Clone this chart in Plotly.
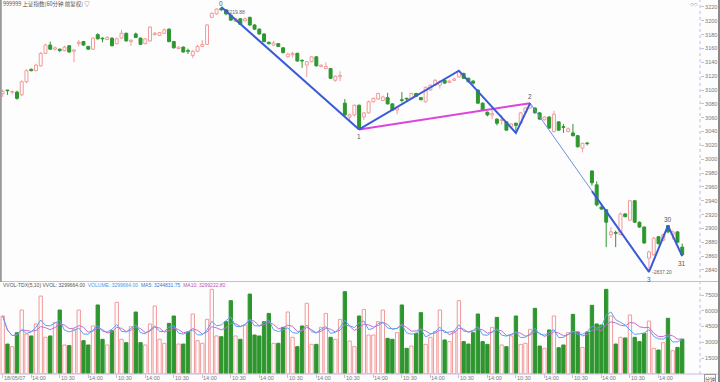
import plotly.graph_objects as go
import pandas as pd

# ---------------- data ----------------
opens = [3095, 3100, 3097, 3097, 3093, 3112, 3130, 3128, 3135, 3153,
         3165, 3159, 3159, 3157, 3164, 3156, 3167, 3170, 3163, 3159,
         3180, 3175, 3173, 3175, 3167, 3175, 3182, 3170, 3181, 3175,
         3167, 3171, 3180, 3179, 3182, 3188, 3170, 3160, 3162, 3157,
         3150, 3156, 3163, 3166, 3205, 3210, 3218, 3216, 3208, 3199,
         3203, 3200, 3205, 3194, 3188, 3181, 3169, 3165, 3167, 3161,
         3148, 3151, 3153, 3143, 3136, 3141, 3148, 3134, 3131, 3131,
         3114, 3119, 3081, 3061, 3064, 3078, 3061, 3067, 3083, 3087,
         3085, 3089, 3080, 3071, 3086, 3088, 3088, 3095, 3089, 3083,
         3100, 3107, 3107, 3114, 3111, 3114, 3119, 3124, 3117, 3113,
         3100, 3081, 3068, 3064, 3058, 3056, 3054, 3047, 3052, 3052,
         3068, 3074, 3074, 3067, 3057, 3061, 3040, 3054, 3047, 3040,
         3038, 3034, 3016, 3023.5, 2983, 2963, 2931, 2927, 2891, 2894,
         2891, 2921, 2912, 2940, 2909, 2902, 2857, 2862, 2888, 2883,
         2904, 2891, 2895, 2873]
highs = [3101, 3100, 3099, 3099, 3114, 3130, 3131, 3138, 3155, 3167,
         3170, 3163, 3160, 3164, 3165, 3159, 3172, 3171, 3164, 3176,
         3182, 3176, 3178, 3176, 3176, 3187, 3183, 3173, 3183, 3176,
         3175, 3192, 3184, 3184, 3189, 3189, 3171, 3163, 3163, 3160,
         3158, 3165, 3172, 3195, 3212, 3218, 3219.88, 3217, 3209, 3204,
         3204, 3205, 3206, 3195, 3189, 3182, 3170, 3171, 3168, 3162,
         3154, 3155, 3154, 3144, 3142, 3149, 3149, 3137, 3140, 3132,
         3121, 3127, 3087, 3066, 3079, 3079, 3068, 3085, 3089, 3096,
         3092, 3096, 3081, 3076, 3097, 3089, 3096, 3096, 3090, 3105,
         3108, 3116, 3114, 3116, 3115, 3118, 3128, 3125, 3118, 3114,
         3101, 3082, 3069, 3075, 3059, 3064, 3055, 3052, 3053, 3068,
         3075, 3081, 3075, 3068, 3062, 3062, 3070, 3055, 3051, 3046,
         3051, 3035, 3024, 3025, 2984, 2968, 2932, 2928, 2902, 2897,
         2923, 2922, 2941, 2941, 2910, 2903, 2868, 2888, 2889, 2893,
         2905, 2897, 2896, 2878]
lows = [3090, 3093, 3094, 3086, 3091, 3110, 3127, 3127, 3134, 3152,
        3158, 3157, 3155, 3156, 3154, 3140, 3163, 3164, 3158, 3158,
        3173, 3169, 3172, 3163, 3166, 3174, 3170, 3164, 3175, 3165,
        3166, 3170, 3179, 3178, 3181, 3169, 3160, 3159, 3154, 3152,
        3146, 3155, 3162, 3165, 3204, 3209, 3214, 3208, 3200, 3198,
        3194, 3199, 3193, 3187, 3180, 3169, 3166, 3164, 3162, 3153,
        3147, 3147, 3141, 3132, 3119, 3140, 3134, 3133, 3130, 3116,
        3112, 3113, 3062, 3056, 3062, 3043, 3057, 3066, 3082, 3086,
        3084, 3079, 3070, 3065, 3082, 3084, 3087, 3090, 3085, 3082,
        3099, 3106, 3102, 3109, 3110, 3113, 3118, 3116, 3111, 3108,
        3080, 3070, 3062, 3058, 3049, 3050, 3041, 3044, 3038, 3051,
        3067, 3073, 3066, 3057, 3056, 3044, 3039, 3041, 3038, 3039,
        3033, 3017, 3010, 3020, 2962, 2932, 2927, 2873, 2886, 2873,
        2890, 2916, 2911, 2908, 2901, 2878, 2837.2, 2861, 2877, 2882,
        2893, 2884, 2879, 2860]
closes = [3098, 3099, 3098, 3088, 3112, 3128, 3128, 3136, 3153, 3165,
          3159, 3161, 3157, 3162, 3155, 3158, 3169, 3165, 3159, 3175,
          3174, 3174, 3176, 3164, 3174, 3182, 3171, 3172, 3176, 3166,
          3174, 3191, 3182, 3183, 3187, 3170, 3161, 3162, 3155, 3156,
          3156, 3163, 3166, 3194, 3211, 3217, 3216, 3210, 3201, 3203,
          3195, 3203, 3194, 3188, 3181, 3170, 3167, 3168, 3163, 3154,
          3152, 3153, 3142, 3142, 3141, 3148, 3135, 3136, 3134, 3117,
          3120, 3121, 3064, 3064, 3078, 3045, 3067, 3083, 3088, 3095,
          3090, 3080, 3071, 3074, 3085, 3087, 3095, 3091, 3086, 3104,
          3107, 3114, 3112, 3110, 3113, 3116, 3126, 3117, 3112, 3110,
          3081, 3071, 3064, 3066, 3052, 3057, 3042, 3051, 3049, 3067,
          3074, 3078, 3067, 3058, 3061, 3045, 3065, 3042, 3046, 3044,
          3034, 3018, 3023, 3022.5, 2966, 2934, 2928, 2909, 2895, 2893,
          2921, 2917, 2940, 2909, 2902, 2879, 2866, 2886, 2878, 2891,
          2895, 2895, 2880, 2862]
volumes = [55000, 28300, 25800, 39100, 60700, 37900, 36000, 47400, 74000, 34700,
           36000, 48700, 60700, 27400, 26800, 42300, 60700, 31500, 27400, 45500,
           65500, 32800, 27400, 41000, 68000, 32800, 29600, 44800, 58800, 29600,
           27400, 47400, 64500, 32800, 29000, 48000, 55000, 28300, 28300, 39800,
           56900, 31500, 29000, 51800, 80400, 36000, 35300, 49600, 69600, 36000,
           32800, 46400, 75900, 36900, 36000, 49600, 57500, 29000, 29000, 44200,
           58800, 34700, 25800, 45500, 67100, 28000, 28000, 44200, 57500, 34700,
           32800, 51800, 78200, 31200, 25800, 55000, 61300, 36900, 36900, 49600,
           60700, 33700, 32800, 39100, 65500, 24200, 26400, 38400, 58200, 28000,
           34700, 40100, 60700, 32200, 30600, 40100, 69600, 30600, 28300, 39100,
           56900, 30600, 28000, 44200, 53700, 27400, 25800, 36000, 55000, 28000,
           29000, 42300, 62300, 26400, 24200, 41700, 55000, 24800, 27400, 39100,
           56600, 39800, 25100, 39800, 65200, 47400, 46400, 80400, 55000, 28300,
           34700, 34100, 56000, 34700, 30600, 38400, 50200, 24200, 22600, 29600,
           52800, 22000, 25100, 32997]

# wave points (bar index, price)
wave_main_idx = [46, 75]
wave_main_px = [3219.88, 3043]
wave_up_idx = [75, 96, 108, 111]
wave_up_px = [3043, 3128, 3038, 3081]
wave_link_idx = [75, 111]
wave_link_px = [3043, 3081]
wave_thin_idx = [111, 136]
wave_thin_px = [3081, 2837.2]
wave_tail_idx = [124, 136, 140, 143]
wave_tail_px = [2954, 2837.2, 2904, 2860]

wave_labels = ["0", "1", "2", "3", "30", "31"]
wave_label_idx = [46, 75, 111, 136, 140, 143]
wave_label_px = [3219.88, 3043, 3081, 2837.2, 2904, 2860]
wave_label_above = [True, False, True, False, True, False]

price_ticks = [2840, 2860, 2880, 2900, 2920, 2940, 2960, 2980, 3000, 3020,
               3040, 3060, 3080, 3100, 3120, 3140, 3160, 3180, 3200, 3220]
vol_ticks = [15000, 30000, 45000, 60000, 75000]

time_label_idx = [0, 6, 12, 18, 24, 30, 36, 42, 48, 54, 60, 66, 72, 78, 84,
                  90, 96, 102, 108, 114, 120, 126, 132, 138]
time_labels = ["18/05/07", "14:00", "10:30", "14:00", "10:30", "14:00", "10:30",
               "14:00", "10:30", "14:00", "10:30", "14:00", "10:30", "14:00",
               "10:30", "14:00", "10:30", "14:00", "10:30", "14:00", "10:30",
               "14:00", "10:30", "14:00"]

vol_header_parts = ["VVOL-TDX(5,10) VVOL: 3299664.00", "VOLUME: 3299664.00",
                    "MA5: 3244831.75", "MA10: 3299222.80"]
vol_header_colors = ["#555555", "#4f9be8", "#3f74d8", "#c050c0"]

# ---------------- style ----------------
W, H = 720, 382
BG = "#fdfdfd"
PINK = "#f29a9a"
GREEN = "#2e962e"
AXC = "#cbb8de"
TXT = "#7a7a7a"
FONT = "Liberation Sans, DejaVu Sans, sans-serif"
CJK = "Noto Sans CJK SC, sans-serif"


def px(v):
    return v / W


def py(v):
    return 1 - v / H


n = len(opens)
idx = list(range(n))
is_up = [c >= o for o, c in zip(opens, closes)]

fig = go.Figure()

# wicks
for flag, col in ((True, PINK), (False, GREEN)):
    wx, wy = [], []
    for i in idx:
        if is_up[i] != flag:
            continue
        top = max(opens[i], closes[i])
        bot = min(opens[i], closes[i])
        wx += [i, i, None, i, i, None]
        wy += [top, highs[i], None, lows[i], bot, None]
    fig.add_trace(go.Scatter(x=wx, y=wy, mode="lines", line=dict(color=col, width=1),
                             hoverinfo="skip", xaxis="x", yaxis="y"))

# bodies
for flag, fill, col in ((True, BG, PINK), (False, GREEN, GREEN)):
    bx = [i for i in idx if is_up[i] == flag]
    fig.add_trace(go.Bar(
        x=bx,
        y=[max(abs(closes[i] - opens[i]), 0.4) for i in bx],
        base=[min(opens[i], closes[i]) for i in bx],
        width=0.62, marker=dict(color=fill, line=dict(color=col, width=1)),
        xaxis="x", yaxis="y", hoverinfo="skip"))

# wave lines
fig.add_trace(go.Scatter(x=wave_link_idx, y=wave_link_px, mode="lines",
                         line=dict(color="#dd44dd", width=2), xaxis="x", yaxis="y"))
fig.add_trace(go.Scatter(x=wave_thin_idx, y=wave_thin_px, mode="lines",
                         line=dict(color="#6f8fe8", width=1), xaxis="x", yaxis="y"))
for wx_, wy_ in ((wave_main_idx, wave_main_px), (wave_up_idx, wave_up_px),
                 (wave_tail_idx, wave_tail_px)):
    fig.add_trace(go.Scatter(x=wx_, y=wy_, mode="lines",
                             line=dict(color="#3a5bd8", width=2), xaxis="x", yaxis="y"))

# volume bars
for flag, fill, col in ((True, BG, PINK), (False, GREEN, GREEN)):
    bx = [i for i in idx if is_up[i] == flag]
    fig.add_trace(go.Bar(x=bx, y=[volumes[i] for i in bx], width=0.7,
                         marker=dict(color=fill, line=dict(color=col, width=1)),
                         xaxis="x2", yaxis="y2", hoverinfo="skip"))

vol_s = pd.Series(volumes, dtype=float)
ma5 = vol_s.rolling(5, min_periods=1).mean()
ma10 = vol_s.rolling(10, min_periods=1).mean()
fig.add_trace(go.Scatter(x=idx, y=ma10, mode="lines", line=dict(color="#c86ad0", width=1),
                         xaxis="x2", yaxis="y2"))
fig.add_trace(go.Scatter(x=idx, y=ma5, mode="lines", line=dict(color="#5aa2f0", width=1),
                         xaxis="x2", yaxis="y2"))

# ---------------- layout ----------------
xr = [-0.57, 146.74]
price_dom = [py(281), 1]
vol_dom = [py(373.75), py(282)]
vol_top = (373.75 - 282) / 1.05 * 1000

annotations = []
for lab, i, p, above in zip(wave_labels, wave_label_idx, wave_label_px, wave_label_above):
    annotations.append(dict(x=i, y=p, xref="x", yref="y", text=lab, showarrow=False,
                            yanchor="bottom" if above else "top",
                            yshift=(-2 if i == wave_label_idx[0] else 1) if above else -2,
                            font=dict(size=6.5, color="#555", family=FONT)))
annotations.append(dict(x=46, y=3219.88, xref="x", yref="y", text="-3219.88",
                        showarrow=False, xanchor="left", yanchor="top", xshift=2, yshift=0,
                        font=dict(size=5, color="#666", family=FONT)))
annotations.append(dict(x=136, y=2837.2, xref="x", yref="y", text="-2837.20",
                        showarrow=False, xanchor="left", yanchor="middle", xshift=1,
                        font=dict(size=5, color="#666", family=FONT)))
annotations.append(dict(x=px(1), y=py(4), xref="paper", yref="paper",
                        text="999999 上证指数(60分钟 前复权) ▽", showarrow=False,
                        xanchor="left", yanchor="middle",
                        font=dict(size=5.5, color="#555", family=CJK)))
annotations.append(dict(x=px(700), y=py(4), xref="paper", yref="paper", text="◇◇",
                        showarrow=False, xanchor="right", yanchor="middle",
                        font=dict(size=5, color="#999", family=FONT)))
header_html = "  ".join(
    "<span style='color:%s'>%s</span>" % (c, t)
    for t, c in zip(vol_header_parts, vol_header_colors))
annotations.append(dict(x=px(1), y=py(284.8), xref="paper", yref="paper", text=header_html,
                        showarrow=False, xanchor="left", yanchor="middle",
                        font=dict(size=5, color="#555", family=FONT)))
for i, lab in zip(time_label_idx, time_labels):
    annotations.append(dict(x=i, y=py(378.3), xref="x2", yref="paper", text=lab,
                            showarrow=False, xanchor="left", yanchor="middle", xshift=-1,
                            font=dict(size=5.5, color=TXT, family=FONT)))
annotations.append(dict(x=px(710), y=py(378.5), xref="paper", yref="paper", text="分钟",
                        showarrow=False, xanchor="center", yanchor="middle",
                        bordercolor="#999", borderwidth=1, borderpad=0,
                        font=dict(size=5, color="#555", family=CJK)))

shapes = [
    dict(type="line", xref="paper", yref="paper", x0=px(700), x1=px(700), y0=py(374), y1=1,
         line=dict(color=AXC, width=1, dash="dot")),
    dict(type="line", xref="paper", yref="paper", x0=0, x1=px(718), y0=py(281.5), y1=py(281.5),
         line=dict(color=AXC, width=1)),
    dict(type="line", xref="paper", yref="paper", x0=0, x1=px(718), y0=py(374), y1=py(374),
         line=dict(color=AXC, width=1)),
    dict(type="line", xref="paper", yref="paper", x0=px(0.8), x1=px(0.8), y0=py(282), y1=1,
         line=dict(color="#9a9a9a", width=2)),
    dict(type="line", xref="paper", yref="paper", x0=px(719), x1=px(719), y0=0, y1=1,
         line=dict(color="#8a8a8a", width=2)),
]

fig.update_layout(
    width=W, height=H, autosize=False,
    margin=dict(l=0, r=0, t=0, b=0, pad=0),
    paper_bgcolor=BG, plot_bgcolor=BG,
    showlegend=False, barmode="overlay", hovermode=False,
    annotations=annotations, shapes=shapes,
    xaxis=dict(domain=[0, px(700)], range=xr, anchor="y", showticklabels=False,
               showgrid=False, zeroline=False, showline=False, ticks=""),
    xaxis2=dict(domain=[0, px(700)], range=xr, anchor="y2", matches="x",
                showticklabels=False, showgrid=False, zeroline=False, showline=False,
                tickmode="array", tickvals=time_label_idx, ticks="outside", ticklen=3,
                tickcolor=AXC),
    yaxis=dict(domain=price_dom, range=[2824.05, 3230.1], anchor="x", side="right",
               tickmode="array", tickvals=price_ticks, ticktext=[str(t) for t in price_ticks],
               ticks="outside", ticklen=3, tickcolor=AXC, showgrid=False, zeroline=False,
               showline=False, automargin=False,
               tickfont=dict(size=5.5, color=TXT, family=FONT)),
    yaxis2=dict(domain=vol_dom, range=[0, vol_top], anchor="x2", side="right",
                tickmode="array", tickvals=vol_ticks, ticktext=[str(t) for t in vol_ticks],
                ticks="outside", ticklen=3, tickcolor=AXC, showgrid=False, zeroline=False,
                showline=False, automargin=False,
                tickfont=dict(size=5.5, color=TXT, family=FONT)),
)

fig.write_html("out.html", config={"displayModeBar": False},
               post_script="document.body.style.margin='0';document.body.style.overflow='hidden';")
